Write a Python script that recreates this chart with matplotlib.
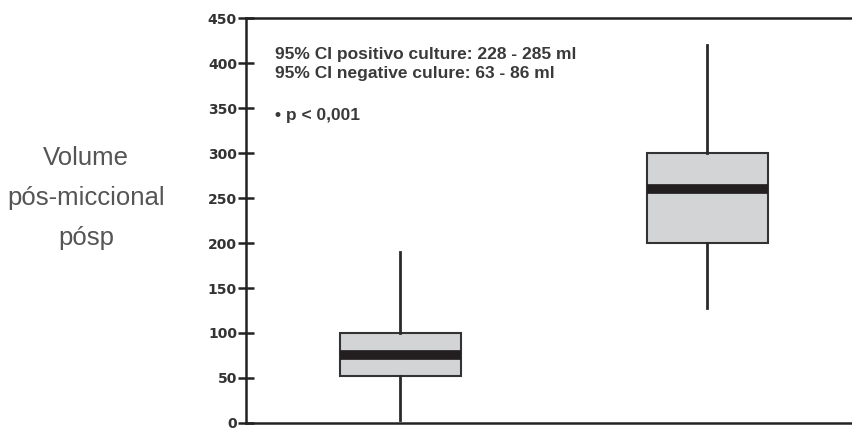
import matplotlib.pyplot as plt

groups = ["negative", "positive"]
medians = [76, 260]
q1 = [52, 200]
q3 = [100, 300]
whislo = [3, 128]
whishi = [190, 420]
yticks = [0, 50, 100, 150, 200, 250, 300, 350, 400, 450]
notes = ["95% CI positivo culture: 228 - 285 ml", "95% CI negative culure: 63 - 86 ml", "\u2022 p < 0,001"]
note_y = [409, 388, 342]
ylabel_lines = ["Volume", "pós-miccional", "pósp"]

plt.rcParams['font.family'] = ['Liberation Sans', 'DejaVu Sans']

fig = plt.figure(figsize=(8.53, 4.29), dpi=100)
ax = fig.add_axes([0.2884, 0.014, 0.7116, 0.944])

stats = []
for i, g in enumerate(groups):
    stats.append(dict(label=g, med=medians[i], q1=q1[i], q3=q3[i],
                      whislo=whislo[i], whishi=whishi[i], fliers=[]))

ax.bxp(stats, positions=[1, 2], widths=0.394, showcaps=False, patch_artist=True,
       boxprops=dict(facecolor='#d3d4d6', edgecolor='#333333', linewidth=1.5),
       whiskerprops=dict(color='#2a2a2a', linewidth=2),
       medianprops=dict(color='#231f20', linewidth=7, solid_capstyle='butt'))

ax.set_xlim(0.498, 2.475)
ax.set_ylim(0, 450)
ax.set_yticks(yticks)
ax.set_xticks([])
ax.spines['right'].set_visible(False)
for s in ['left', 'top', 'bottom']:
    ax.spines[s].set_linewidth(1.8)
    ax.spines[s].set_color('#222222')
ax.tick_params(axis='y', direction='inout', length=11, width=1.8, color='#222222',
               labelsize=10, labelcolor='#333333', pad=1)
for lab in ax.get_yticklabels():
    lab.set_fontweight('bold')
    lab.set_family('DejaVu Sans')

for txt, y in zip(notes, note_y):
    ax.text(0.592, y, txt, fontsize=12.5, fontweight='bold', color='#3a3a3a', va='center')

# rotulo do eixo y em tres linhas
for txt, py in zip(ylabel_lines, [158, 198, 238]):
    fig.text(86 / 853, 1 - py / 429, txt, ha='center', va='center',
             fontsize=18.5, color='#555555')

fig.savefig("out.png", dpi=100)
